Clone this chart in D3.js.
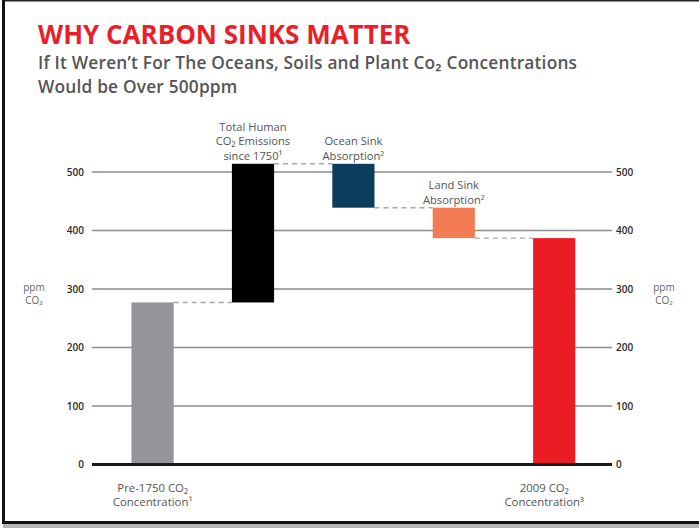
<!DOCTYPE html>
<html>
<head>
<meta charset="utf-8">
<script src="https://cdn.jsdelivr.net/npm/d3@7"></script>
<style>
  html, body { margin: 0; padding: 0; background: #fff; }
  svg { display: block; }
</style>
</head>
<body>
<svg id="chart" width="699" height="528"></svg>
<script>
// ---- data ----
const categories = ["Pre-1750", "Human Emissions", "Ocean Sink", "Land Sink", "2009"];
const barStart = [0, 277, 514, 439, 0];
const barEnd   = [277, 514, 439, 387, 387];
const barColors = ["#939598", "#000000", "#0c3d5c", "#f47c54", "#ec1c24"];
const yTicks = [0, 100, 200, 300, 400, 500];
const topLabels = [
  null,
  ["Total Human", "CO₂ Emissions", "since 1750¹"],
  ["Ocean Sink", "Absorption²"],
  ["Land Sink", "Absorption²"],
  null
];
const bottomLabels = [
  ["Pre-1750 CO₂", "Concentration¹"],
  null, null, null,
  ["2009 CO₂", "Concentration³"]
];
const titleText = "WHY CARBON SINKS MATTER";
const subtitleLines = ["If It Weren’t For The Oceans, Soils and Plant Co₂ Concentrations", "Would be Over 500ppm"];
const axisTitle = ["ppm", "CO₂"];

// ---- layout ----
const W = 699, H = 528;
const svg = d3.select("#chart");
const font = "'Open Sans', 'Noto Sans', sans-serif";

// frame
svg.append("rect").attr("x", 3).attr("y", 524).attr("width", W - 3).attr("height", 4).attr("fill", "#b5b5b5");
svg.append("line").attr("x1", 3).attr("x2", W).attr("y1", 0.5).attr("y2", 0.5).attr("stroke", "#222").attr("stroke-width", 2);
svg.append("line").attr("x1", 3.5).attr("x2", 3.5).attr("y1", 0).attr("y2", 524).attr("stroke", "#111").attr("stroke-width", 3);
svg.append("line").attr("x1", 3).attr("x2", W).attr("y1", 522.5).attr("y2", 522.5).attr("stroke", "#111").attr("stroke-width", 3);

// multi-line text inside one <text>
function multiLine(textSel, lines, xPos, lineH) {
  textSel.selectAll("tspan").data(lines).join("tspan")
    .attr("x", xPos)
    .attr("dy", (d, j) => j === 0 ? 0 : lineH)
    .text(d => d);
}

// title
svg.append("text").attr("x", 38).attr("y", 44)
  .attr("font-family", font).attr("font-weight", 700).attr("font-size", 26)
  .attr("fill", "#e8202a").text(titleText);

const sub = svg.append("text").attr("x", 38).attr("y", 69)
  .attr("font-family", font).attr("font-weight", 600).attr("font-size", 17.3)
  .attr("letter-spacing", 0.2)
  .attr("fill", "#555");
multiLine(sub, subtitleLines, 38, 23.6);

// scales
const x = d3.scaleBand().domain(categories).range([102.4, 604.4]).paddingInner(0.58).paddingOuter(0.29);
const y = d3.scaleLinear().domain([0, 500]).range([464.5, 172]);
const gx0 = 92, gx1 = 612;

// gridlines
const grid = svg.append("g");
grid.selectAll("line").data(yTicks.filter(d => d > 0)).join("line")
  .attr("x1", gx0).attr("x2", gx1)
  .attr("y1", d => y(d)).attr("y2", d => y(d))
  .attr("stroke", "#8c8c8c").attr("stroke-width", 1.6);

// left/right axes (labels only)
const leftAxis = d3.axisLeft(y).tickValues(yTicks).tickSize(0).tickPadding(0);
const gl = svg.append("g").attr("transform", `translate(${gx0 - 8},0)`).call(leftAxis);
const rightAxis = d3.axisRight(y).tickValues(yTicks).tickSize(0).tickPadding(0);
const gr = svg.append("g").attr("transform", `translate(${gx1 + 4},0)`).call(rightAxis);
[gl, gr].forEach(g => {
  g.select(".domain").remove();
  g.selectAll("text").attr("font-family", font).attr("font-size", 10).attr("font-weight", 600).attr("fill", "#2a2a2a");
});

// connectors (dashed)
const conn = svg.append("g");
conn.selectAll("line").data(categories.slice(0, -1)).join("line")
  .attr("x1", (d) => x(d) + x.bandwidth())
  .attr("x2", (d, i) => x(categories[i + 1]))
  .attr("y1", (d, i) => y(barEnd[i]))
  .attr("y2", (d, i) => y(barEnd[i]))
  .attr("stroke", "#a8a8a8").attr("stroke-width", 1.4).attr("stroke-dasharray", "5,4");

// bars
svg.append("g").selectAll("rect").data(categories).join("rect")
  .attr("x", d => x(d))
  .attr("width", x.bandwidth())
  .attr("y", (d, i) => y(Math.max(barStart[i], barEnd[i])))
  .attr("height", (d, i) => Math.abs(y(barStart[i]) - y(barEnd[i])))
  .attr("fill", (d, i) => barColors[i]);

// zero line
svg.append("line").attr("x1", gx0).attr("x2", gx1).attr("y1", y(0)).attr("y2", y(0))
  .attr("stroke", "#1a1a1a").attr("stroke-width", 3);

// top labels
categories.forEach((c, i) => {
  const lines = topLabels[i];
  if (!lines) return;
  const topY = y(Math.max(barStart[i], barEnd[i]));
  const cx = x(c) + x.bandwidth() / 2;
  const t = svg.append("text")
    .attr("x", cx)
    .attr("y", topY - 4 - (lines.length - 1) * 14.5)
    .attr("text-anchor", "middle")
    .attr("font-family", font).attr("font-size", 11.2).attr("fill", "#555");
  multiLine(t, lines, cx, 14.5);
});

// bottom labels
categories.forEach((c, i) => {
  const lines = bottomLabels[i];
  if (!lines) return;
  const off = i === categories.length - 1 ? -10 : 0;
  const cx = x(c) + x.bandwidth() / 2 + off;
  const t = svg.append("text")
    .attr("x", cx)
    .attr("y", y(0) + 27)
    .attr("text-anchor", "middle")
    .attr("font-family", font).attr("font-size", 11.4).attr("fill", "#555");
  multiLine(t, lines, cx, 14);
});

// axis titles
[34, 664].forEach(ax => {
  const t = svg.append("text").attr("x", ax).attr("y", 291)
    .attr("text-anchor", "middle")
    .attr("font-family", font).attr("font-size", 10).attr("fill", "#666");
  multiLine(t, axisTitle, ax, 13);
});
</script>
</body>
</html>
